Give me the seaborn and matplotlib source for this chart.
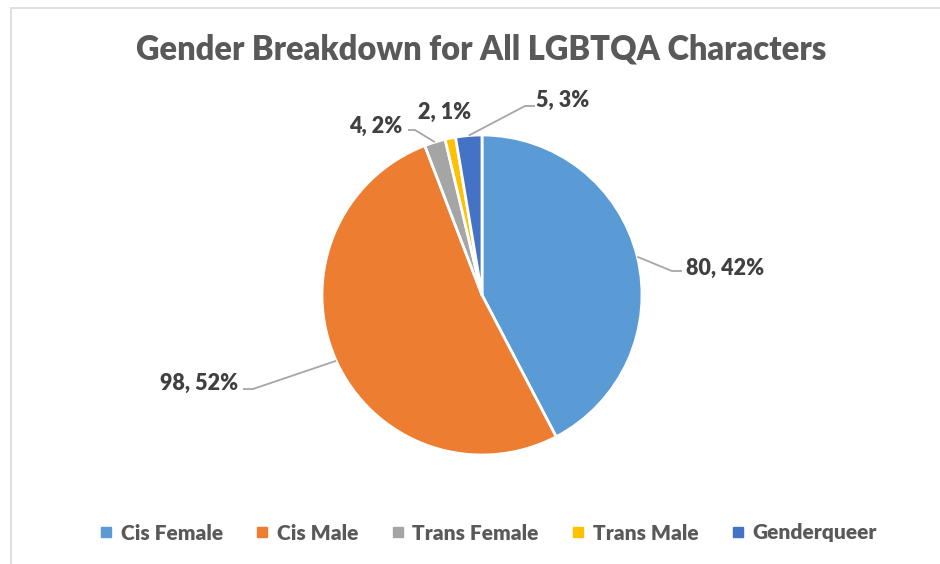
import numpy as np
import matplotlib
matplotlib.use("Agg")
import matplotlib.pyplot as plt
import seaborn as sns
from matplotlib.lines import Line2D
from matplotlib.patches import Rectangle

# chart data
categories = ["Cis Female", "Cis Male", "Trans Female", "Trans Male", "Genderqueer"]
counts = [80, 98, 4, 2, 5]
colors = ["#5B9BD5", "#ED7D31", "#A5A5A5", "#FFC000", "#4472C4"]
title = "Gender Breakdown for All LGBTQA Characters"

sns.set_theme(style="white")
plt.rcParams["font.family"] = ["Lato", "DejaVu Sans"]

W, H = 940, 564
fig = plt.figure(figsize=(W / 100, H / 100), dpi=100)
ax = fig.add_axes([0, 0, 1, 1])

# chart frame
fig.patches.append(Rectangle((11 / W, -0.1), 1.2, 1.1 - 8 / H, transform=fig.transFigure,
                             fill=False, edgecolor="#D9D9D9", lw=1.2))

cx, cy, r = 482, H - 295, 160
wedges, _ = ax.pie(counts, colors=colors, startangle=90, counterclock=False,
                   center=(cx, cy), radius=r, frame=True,
                   wedgeprops=dict(edgecolor="white", linewidth=2))
ax.set_xlim(0, W)
ax.set_ylim(0, H)
ax.axis("off")

total = sum(counts)
labels = [f"{v}, {round(100 * v / total)}%" for v in counts]

# label layout (pixel coords from top): text anchor x, text centre y, alignment, leader elbow
layout = [
    dict(tx=686, ty=268, ha="left", elbow=(672, 271), end=682),
    dict(tx=238, ty=383, ha="right", elbow=(253, 389), end=243),
    dict(tx=402, ty=126, ha="right", elbow=(415, 130), end=408),
    dict(tx=445, ty=112, ha="center", elbow=None, end=None),
    dict(tx=536, ty=100, ha="left", elbow=(525, 106), end=535),
]

for w, lab, lo in zip(wedges, labels, layout):
    ax.text(lo["tx"], H - lo["ty"], lab, ha=lo["ha"], va="center",
            fontsize=15.5, fontweight="heavy", color="#404040")
    if lo["elbow"] is not None:
        mid = np.deg2rad((w.theta1 + w.theta2) / 2)
        px, py = cx + r * np.cos(mid), cy + r * np.sin(mid)
        ex, ey = lo["elbow"]
        ax.plot([px, ex, lo["end"]], [py, H - ey, H - ey], color="#A6A6A6", lw=1.3,
                solid_capstyle="butt")

fig.text(481 / W, 1 - 50 / H, title, ha="center", va="center",
         fontsize=23.5, fontweight="heavy", color="#595959")

handles = [Line2D([], [], marker="s", linestyle="none", markersize=7,
                  markerfacecolor=c, markeredgecolor=c) for c in colors]
fig.legend(handles, categories, loc="center", bbox_to_anchor=(488 / W, 1 - 533 / H),
           ncol=5, frameon=False, handlelength=0.7, handletextpad=0.35, columnspacing=1.55,
           prop=dict(size=15, weight="heavy"), labelcolor="#595959")

fig.savefig("out.png", dpi=100)
